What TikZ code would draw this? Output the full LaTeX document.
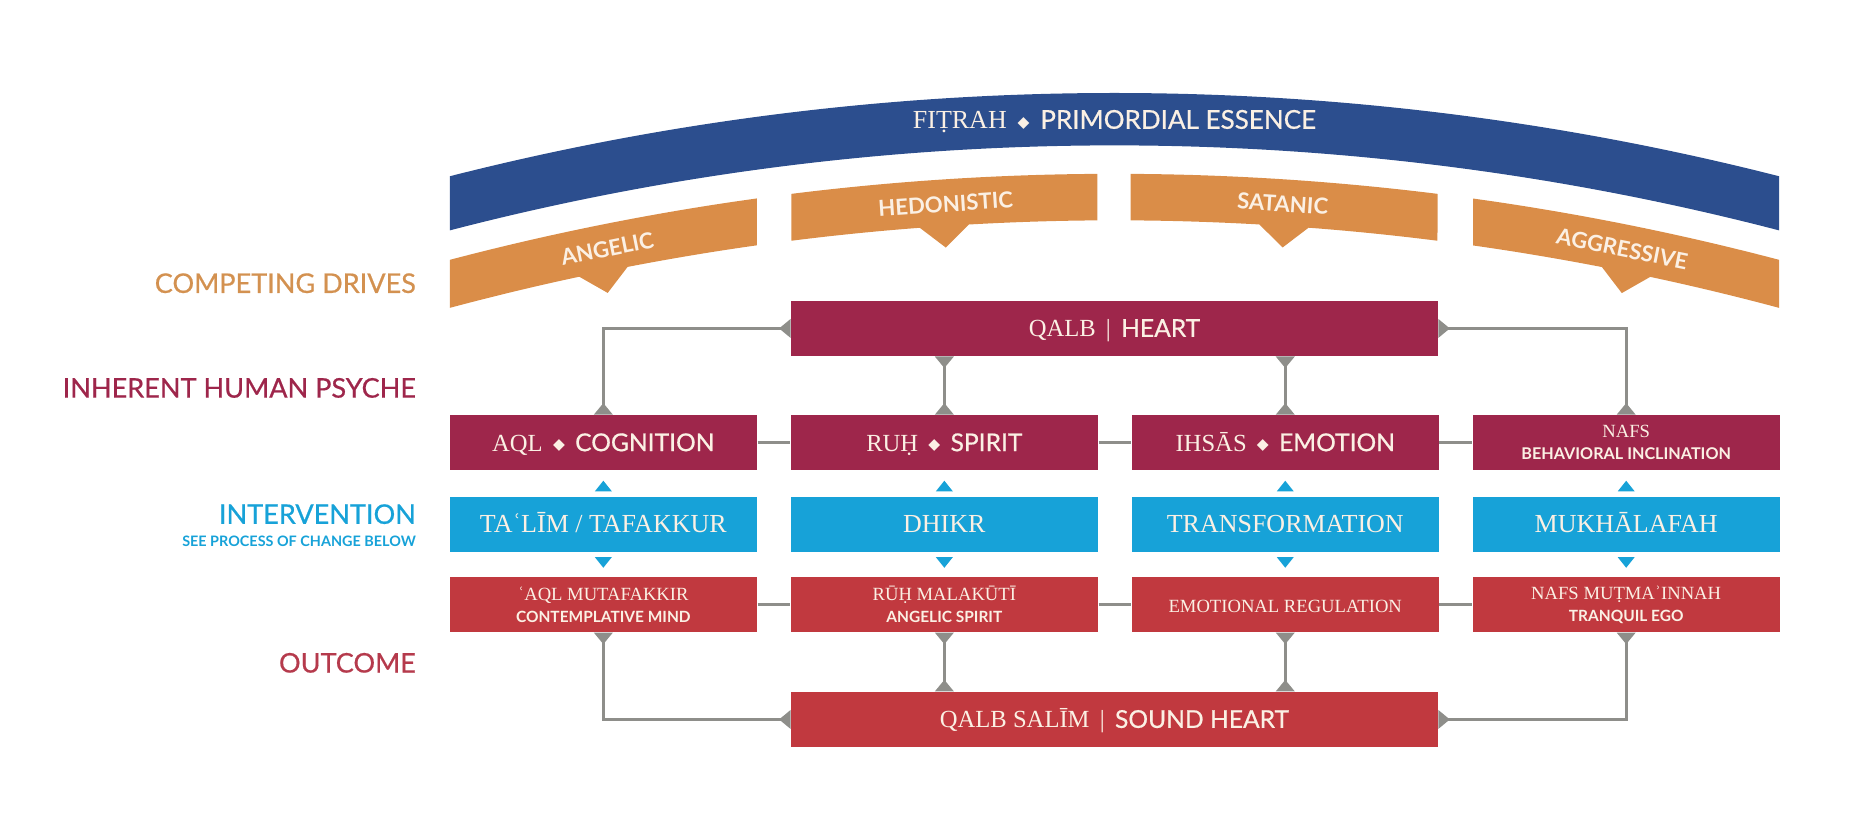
\documentclass[tikz,border=0pt]{standalone}
\usepackage{fontspec}
\setmainfont{Liberation Serif}
\setsansfont{Lato}
\newfontfamily\medsf{Lato}[FakeBold=0.6]
\newfontfamily\symfont{DejaVu Sans}
\usepackage{tikz}
\usetikzlibrary{arrows.meta, calc}
\definecolor{fBlue}{HTML}{2C4E8E}
\definecolor{dOrange}{HTML}{DA8D48}
\definecolor{lOrange}{HTML}{D39150}
\definecolor{mMaroon}{HTML}{9E264B}
\definecolor{mCyan}{HTML}{17A2D8}
\definecolor{mRed}{HTML}{C1393F}
\definecolor{mRose}{HTML}{B53A4C}
\definecolor{mGray}{HTML}{8E8E8A}
\definecolor{cream}{HTML}{FBF0E4}
\newcommand{\dmd}{\,{\symfont\fontsize{4.4}{4.4}\selectfont\raisebox{0.5pt}{◆}}\,}
\newcommand{\fs}[1]{\fontsize{#1}{#1}\selectfont}

\begin{document}
\begin{tikzpicture}[
  rtri/.tip={Triangle[reversed, length=3.3pt, width=5.2pt]},
  box/.style={minimum width=3.07cm, minimum height=0.547cm, inner sep=0pt,
              align=center, text=cream},
  oneline/.style={text height=4.8pt, text depth=0pt},
  psy/.style={box, oneline, fill=mMaroon, font=\fs{7}},
  intv/.style={box, oneline, fill=mCyan, font=\fs{7.4}},
  outc/.style={box, fill=mRed, font=\fs{5.3}},
  hrt/.style={box, oneline, minimum width=6.462cm, font=\fs{7}},
  lbl/.style={anchor=east, inner sep=0pt, font=\medsf\fs{7.7}},
  drivetxt/.style={text=cream, inner sep=0pt, font=\sffamily\bfseries\fs{6.3}},
  link/.style={draw=mGray, line width=0.9pt, rtri-rtri},
  tie/.style={draw=mGray, line width=0.9pt},
]
  \useasboundingbox (0,0) rectangle (18.659,-8.354);
  \coordinate (C) at (11.144,-27.858);

  % fitrah arc
  \pgfmathsetmacro\bo{90-asin(-558.5/2263)}
  \pgfmathsetmacro\bi{90-asin(-558.5/2219)}
  \fill[fBlue] ($(C)+(\bo:26.93)$) arc[start angle=\bo, end angle=180-\bo, radius=26.93]
    -- ($(C)+(180-\bi:26.406)$) arc[start angle=180-\bi, end angle=\bi, radius=26.406] -- cycle;
  \node[text=cream, inner sep=0pt, font=\fs{7.4}] (fitrah) at (11.144,-1.215)
    {FIṬRAH \dmd\ {\medsf PRIMORDIAL ESSENCE}};

  % competing drives
  \foreach \xa/\xb/\lbl in {378/636/ANGELIC, 665/922/HEDONISTIC, 950/1208/SATANIC, 1238/1495/AGGRESSIVE}{
    \pgfmathsetmacro\ao{90-asin((\xa-936.5)/2195)}
    \pgfmathsetmacro\bo{90-asin((\xb-936.5)/2195)}
    \pgfmathsetmacro\ai{90-asin((\xa-936.5)/2156)}
    \pgfmathsetmacro\bi{90-asin((\xb-936.5)/2156)}
    \pgfmathsetmacro\am{(\ao+\bo)/2}
    \pgfmathsetmacro\ac{90-asin(((\xa+\xb)/2-936.5)/2156)}
    \fill[dOrange] ($(C)+(\ao:26.121)$) arc[start angle=\ao, end angle=\bo, radius=26.121]
      -- ($(C)+(\bi:25.656)$) arc[start angle=\bi, end angle=\ac-0.55, radius=25.656]
      -- ($(C)+(\ac:25.44)$) -- ($(C)+(\ac+0.55:25.656)$)
      arc[start angle=\ac+0.55, end angle=\ai, radius=25.656] -- cycle;
    \node[drivetxt, rotate=\am-90] (d-\lbl) at ($(C)+(\am:25.875)$) {\lbl};
  }

  % row labels
  \node[lbl, text=lOrange] (lcd) at (4.165,-2.832) {COMPETING DRIVES};
  \node[lbl, text=mMaroon] (lhp) at (4.165,-3.879) {INHERENT HUMAN PSYCHE};
  \node[lbl, text=mCyan] (lin) at (4.165,-5.141) {INTERVENTION};
  \node[lbl, text=mCyan, font=\sffamily\bfseries\fs{4.1}] (lsee) at (4.165,-5.415) {SEE PROCESS OF CHANGE BELOW};
  \node[lbl, text=mRose] (lout) at (4.165,-6.628) {OUTCOME};

  % heart
  \node[hrt, fill=mMaroon] (qalb) at (11.144,-3.284) {QALB \,|\, {\medsf HEART}};

  \node[psy] (aql) at (6.033,-4.427) {AQL \dmd\ {\medsf COGNITION}};
  \node[psy] (ruh) at (9.443,-4.427) {RUḤ \dmd\ {\medsf SPIRIT}};
  \node[psy] (ihsas) at (12.852,-4.427) {IHSĀS \dmd\ {\medsf EMOTION}};
  \node[box, fill=mMaroon, font=\fs{5.3}] (nafs) at (16.261,-4.427)
    {NAFS\\[1pt]{\sffamily\bfseries\fs{4.6}BEHAVIORAL INCLINATION}};

  \node[intv] (talim) at (6.033,-5.242) {TAʿLĪM / TAFAKKUR};
  \node[intv] (dhikr) at (9.443,-5.242) {DHIKR};
  \node[intv] (transf) at (12.852,-5.242) {TRANSFORMATION};
  \node[intv] (mukh) at (16.261,-5.242) {MUKHĀLAFAH};

  \node[outc] (aqlm) at (6.033,-6.045)
    {ʿAQL MUTAFAKKIR\\[1pt]{\sffamily\bfseries\fs{4.4}CONTEMPLATIVE MIND}};
  \node[outc] (ruhm) at (9.443,-6.045)
    {RŪḤ MALAKŪTĪ\\[1pt]{\sffamily\bfseries\fs{4.4}ANGELIC SPIRIT}};
  \node[outc, oneline] (emreg) at (12.852,-6.045) {EMOTIONAL REGULATION};
  \node[outc] (nafsm) at (16.261,-6.045)
    {NAFS MUṬMAʾINNAH\\[1pt]{\sffamily\bfseries\fs{4.4}TRANQUIL EGO}};

  \node[hrt, fill=mRed] (salim) at (11.144,-7.194) {QALB SALĪM \,|\, {\medsf SOUND HEART}};

  % cyan markers
  \foreach \n in {talim, dhikr, transf, mukh}{
    \fill[mCyan] ([yshift=1.4pt]\n.north) ++(-2.4pt,0) -- ++(4.8pt,0) -- ++(-2.4pt,3pt) -- cycle;
    \fill[mCyan] ([yshift=-1.4pt]\n.south) ++(-2.4pt,0) -- ++(4.8pt,0) -- ++(-2.4pt,-3pt) -- cycle;
  }

  % connectors
  \draw[tie] (aql.east) -- (ruh.west);
  \draw[tie] (ruh.east) -- (ihsas.west);
  \draw[tie] (ihsas.east) -- (nafs.west);
  \draw[tie] (aqlm.east) -- (ruhm.west);
  \draw[tie] (ruhm.east) -- (emreg.west);
  \draw[tie] (emreg.east) -- (nafsm.west);

  \draw[link] (qalb.west) -| (aql.north);
  \draw[link] (qalb.south -| ruh.north) -- (ruh.north);
  \draw[link] (qalb.south -| ihsas.north) -- (ihsas.north);
  \draw[link] (qalb.east) -| (nafs.north);

  \draw[link] (aqlm.south) |- (salim.west);
  \draw[link] (ruhm.south) -- (ruhm.south |- salim.north);
  \draw[link] (emreg.south) -- (emreg.south |- salim.north);
  \draw[link] (nafsm.south) |- (salim.east);
\end{tikzpicture}
\end{document}
